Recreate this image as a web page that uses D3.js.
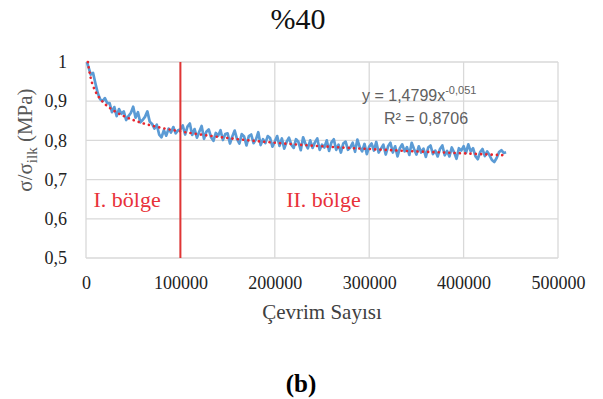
<!DOCTYPE html>
<html><head><meta charset="utf-8">
<script src="https://cdn.jsdelivr.net/npm/d3@7/dist/d3.min.js"></script>
<style>body{margin:0;background:#fff}svg{display:block}</style>
</head><body>
<script>
// ---- data ----
const cycles = [1,2.5,5,7.5,10,12.5,15,17.5,20,22.5,25,27.5,30,32.5,35,37.5,40,42.5,45,47.5,50,52.5,55,57.5,60,62.5,65,67.5,70,72.5,75,77.5,80,82.5,85,87.5,90,92.5,95,97.5,100,102.5,105,107.5,110,112.5,115,117.5,120,122.5,125,127.5,130,132.5,135,137.5,140,142.5,145,147.5,150,152.5,155,157.5,160,162.5,165,167.5,170,172.5,175,177.5,180,182.5,185,187.5,190,192.5,195,197.5,200,202.5,205,207.5,210,212.5,215,217.5,220,222.5,225,227.5,230,232.5,235,237.5,240,242.5,245,247.5,250,252.5,255,257.5,260,262.5,265,267.5,270,272.5,275,277.5,280,282.5,285,287.5,290,292.5,295,297.5,300,302.5,305,307.5,310,312.5,315,317.5,320,322.5,325,327.5,330,332.5,335,337.5,340,342.5,345,347.5,350,352.5,355,357.5,360,362.5,365,367.5,370,372.5,375,377.5,380,382.5,385,387.5,390,392.5,395,397.5,400,402.5,405,407.5,410,412.5,415,417.5,420,422.5,425,427.5,430,432.5,435,437.5,440,442.5,445].map(k => k*1000);
const ratio = [
  1.000,0.988,0.968,0.972,0.945,0.920,0.905,0.900,0.908,0.895,
  0.895,0.872,0.885,0.862,0.880,0.868,0.874,0.852,0.862,0.870,
  0.886,0.858,0.872,0.846,0.852,0.860,0.874,0.848,0.842,0.830,
  0.840,0.815,0.808,0.826,0.812,0.830,0.820,0.834,0.818,0.826,
  0.828,0.838,0.815,0.835,0.843,0.814,0.829,0.807,0.822,0.837,
  0.804,0.822,0.828,0.808,0.799,0.819,0.812,0.826,0.801,0.816,
  0.818,0.792,0.810,0.825,0.803,0.792,0.816,0.810,0.787,0.811,
  0.815,0.793,0.802,0.821,0.788,0.803,0.793,0.811,0.806,0.784,
  0.797,0.811,0.786,0.805,0.779,0.796,0.807,0.789,0.781,0.803,
  0.796,0.775,0.808,0.791,0.780,0.800,0.781,0.795,0.805,0.776,
  0.789,0.782,0.800,0.773,0.795,0.803,0.776,0.789,0.769,0.792,
  0.797,0.776,0.782,0.794,0.771,0.802,0.783,0.772,0.791,0.765,
  0.784,0.792,0.774,0.796,0.769,0.779,0.789,0.764,0.785,0.794,
  0.769,0.785,0.759,0.780,0.790,0.772,0.783,0.763,0.794,0.778,
  0.764,0.785,0.769,0.779,0.758,0.782,0.787,0.765,0.774,0.759,
  0.778,0.787,0.762,0.773,0.759,0.782,0.769,0.753,0.780,0.774,
  0.785,0.768,0.790,0.772,0.780,0.760,0.752,0.770,0.778,0.760,
  0.772,0.762,0.750,0.745,0.755,0.770,0.775,0.768,0.770];
// trendline (power fit)
const trendX = [2000,3000,5000,7500,10000,15000,20000,30000,40000,50000,60000,80000,100000,150000,200000,250000,300000,350000,400000,445000];
const trendY = [1.000,0.984,0.959,0.939,0.925,0.906,0.893,0.875,0.862,0.852,0.844,0.832,0.823,0.806,0.794,0.785,0.778,0.772,0.767,0.762];
const xTicks = [0,100000,200000,300000,400000,500000];
const yTicks = [0.5,0.6,0.7,0.8,0.9,1.0];
const boundary = 100000;
const title = "%40";
const xLabel = "Çevrim Sayısı";
const caption = "(b)";
const regionLabels = [{text:"I. bölge", x:8000}, {text:"II. bölge", x:212000}];
const eqMain = "y = 1,4799x", eqExp = "-0,051", r2 = "R² = 0,8706";

// ---- drawing ----
const W = 603, H = 399;
const svg = d3.select("body").append("svg").attr("width", W).attr("height", H);
const x = d3.scaleLinear().domain([0, 500000]).range([86, 558]);
const y = d3.scaleLinear().domain([0.5, 1]).range([258, 62]);
const serif = "'Liberation Serif','Times New Roman',serif";
const sans = "'Liberation Sans',Arial,sans-serif";

// gridlines
const grid = svg.append("g").attr("stroke", "#d9d9d9").attr("stroke-width", 1.3);
grid.selectAll(".h").data(yTicks).join("line")
  .attr("x1", x(0)).attr("x2", x(500000)).attr("y1", d => y(d)).attr("y2", d => y(d));
grid.selectAll(".v").data(xTicks).join("line")
  .attr("y1", y(0.5)).attr("y2", y(1)).attr("x1", d => x(d)).attr("x2", d => x(d));

// axes labels via d3 axes (no domain/ticks lines)
const xAxis = svg.append("g").attr("transform", `translate(0,${y(0.5)})`)
  .call(d3.axisBottom(x).tickValues(xTicks).tickSize(0).tickPadding(18).tickFormat(d3.format("d")));
xAxis.select(".domain").remove();
xAxis.selectAll("text").attr("font-family", serif).attr("font-size", 18).attr("fill", "#222");

const yAxis = svg.append("g").attr("transform", `translate(${x(0)},0)`)
  .call(d3.axisLeft(y).tickValues(yTicks).tickSize(0).tickPadding(19)
    .tickFormat(d => d === 1 ? "1" : d3.format(".1f")(d).replace(".", ",")));
yAxis.select(".domain").remove();
yAxis.selectAll("text").attr("font-family", serif).attr("font-size", 18).attr("fill", "#222");

// data line
const line = d3.line().x((d, i) => x(cycles[i])).y(d => y(d));
svg.append("path").datum(ratio).attr("d", line)
  .attr("fill", "none").attr("stroke", "#5b9bd5").attr("stroke-width", 2.7).attr("stroke-linejoin", "round");

// trendline
const tline = d3.line().x((d, i) => x(trendX[i])).y(d => y(d)).curve(d3.curveMonotoneX);
svg.append("path").datum(trendY).attr("d", tline)
  .attr("fill", "none").attr("stroke", "#e8262d").attr("stroke-width", 2.6)
  .attr("stroke-dasharray", "0.1 5.2").attr("stroke-linecap", "round");

// boundary line
svg.append("line").attr("x1", x(boundary)).attr("x2", x(boundary)).attr("y1", y(1)).attr("y2", y(0.5))
  .attr("stroke", "#e03535").attr("stroke-width", 2);

// region labels
svg.selectAll(".rl").data(regionLabels).join("text")
  .attr("x", d => x(d.x)).attr("y", 207).text(d => d.text)
  .attr("font-family", serif).attr("font-size", 22).attr("fill", "#e8313a");

// equation
const eq = svg.append("text").attr("x", 362).attr("y", 101).attr("font-family", sans)
  .attr("font-size", 16).attr("fill", "#606060");
eq.append("tspan").text(eqMain);
eq.append("tspan").attr("dy", -7).attr("font-size", 11).text(eqExp);
svg.append("text").attr("x", 426).attr("y", 124).attr("text-anchor", "middle").attr("font-family", sans)
  .attr("font-size", 16).attr("fill", "#606060").text(r2);

// title
svg.append("text").attr("x", 298).attr("y", 29).attr("text-anchor", "middle")
  .attr("font-family", serif).attr("font-size", 30).attr("fill", "#111").text(title);

// y label
const yl = svg.append("text").attr("transform", "translate(32,140) rotate(-90)")
  .attr("text-anchor", "middle").attr("font-family", serif).attr("font-size", 21).attr("fill", "#595959");
yl.append("tspan").text("σ/σ");
yl.append("tspan").attr("font-size", 15).attr("dy", 5).text("ilk");
yl.append("tspan").attr("dy", -5).text(" (MPa)");

// x label
svg.append("text").attr("x", 322).attr("y", 319).attr("text-anchor", "middle")
  .attr("font-family", serif).attr("font-size", 21).attr("fill", "#404040").text(xLabel);

// caption
svg.append("text").attr("x", 301).attr("y", 392).attr("text-anchor", "middle")
  .attr("font-family", serif).attr("font-size", 25).attr("font-weight", "bold").attr("fill", "#000").text(caption);
</script>
</body></html>
